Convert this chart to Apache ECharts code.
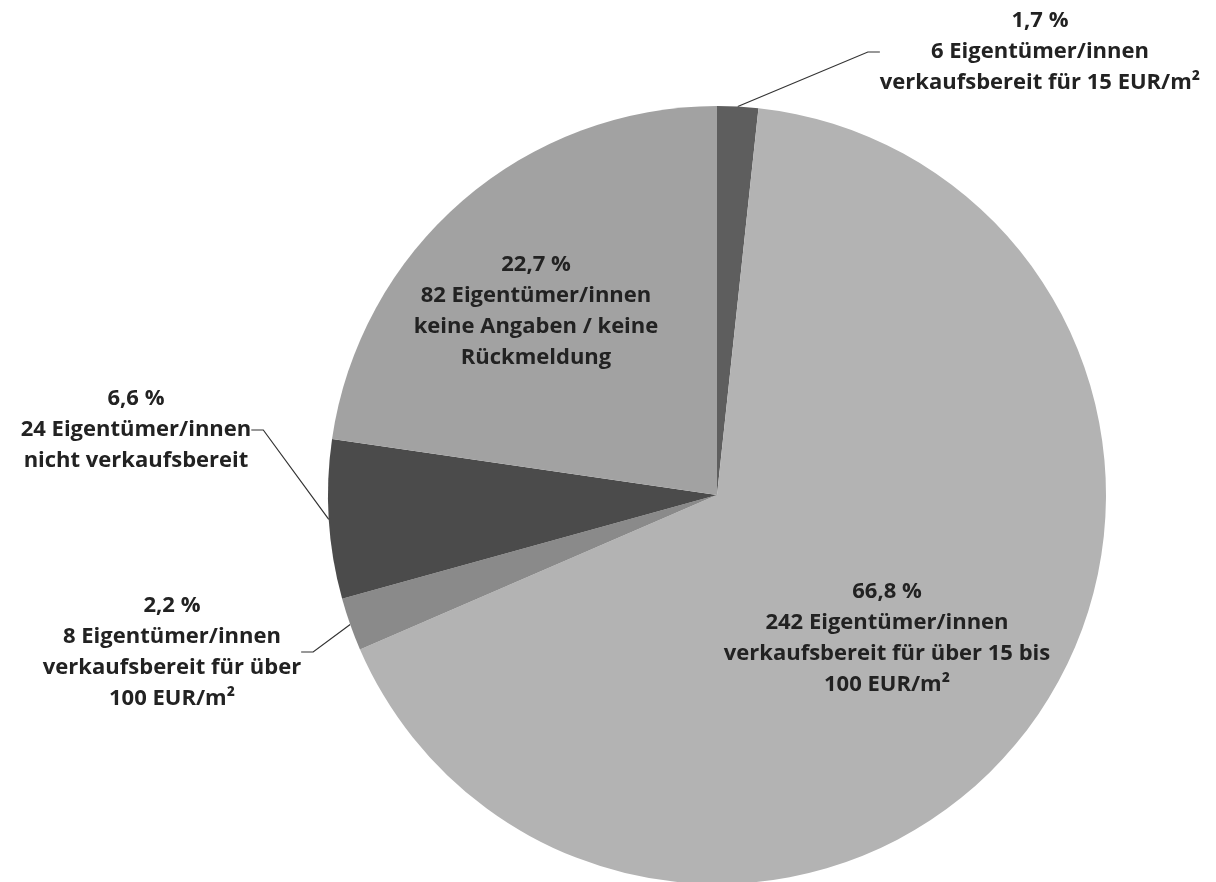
<!DOCTYPE html>
<html>
<head>
<meta charset="utf-8">
<script src="https://cdn.jsdelivr.net/npm/echarts@6/dist/echarts.min.js"></script>
<style>
  html, body { margin: 0; padding: 0; background: #ffffff; }
  #chart { width: 1216px; height: 882px; }
</style>
</head>
<body>
<div id="chart"></div>
<script>
// Verkaufsbereitschaft der Eigentümer/innen (Anteile in %)
const percents = [1.7, 66.8, 2.2, 6.6, 22.7];
const owners = [6, 242, 8, 24, 82];
const descriptions = [
  'verkaufsbereit für 15 EUR/m²',
  'verkaufsbereit für über 15 bis\n100 EUR/m²',
  'verkaufsbereit für über\n100 EUR/m²',
  'nicht verkaufsbereit',
  'keine Angaben / keine\nRückmeldung'
];
const sliceColors = ['#5e5e5e', '#b3b3b3', '#8a8a8a', '#4b4b4b', '#a2a2a2'];

// label anchor points (centre of each text block) and whether it sits inside the slice
const labelSpots = [
  { x: 1040, y: 52, inside: false },
  { x: 887, y: 638, inside: true },
  { x: 172, y: 652, inside: false },
  { x: 136, y: 430, inside: false },
  { x: 536, y: 311, inside: true }
];

const fmt = v => v.toFixed(1).replace('.', ',') + ' %';

const chart = echarts.init(document.getElementById('chart'), null, { renderer: 'canvas' });

const data = percents.map((p, i) => ({
  value: p,
  name: descriptions[i],
  itemStyle: { color: sliceColors[i] },
  label: {
    position: labelSpots[i].inside ? 'inside' : 'outside',
    formatter: fmt(p) + '\n' + owners[i] + ' Eigentümer/innen\n' + descriptions[i]
  },
  labelLine: { show: !labelSpots[i].inside }
}));

chart.setOption({
  backgroundColor: '#ffffff',
  animation: false,
  series: [{
    type: 'pie',
    center: [717, 495],
    radius: [0, 389],
    startAngle: 90,
    clockwise: true,
    avoidLabelOverlap: false,
    itemStyle: { borderWidth: 0 },
    emphasis: { disabled: true },
    label: {
      show: true,
      color: '#222222',
      fontFamily: 'Open Sans',
      fontWeight: 'bold',
      fontSize: 22,
      lineHeight: 31,
      align: 'center'
    },
    labelLine: {
      show: true,
      lineStyle: { color: '#333333', width: 1.2 },
      length: 20,
      length2: 12
    },
    labelLayout: function (params) {
      const s = labelSpots[params.dataIndex];
      return {
        x: s.x,
        y: s.y,
        align: 'center',
        verticalAlign: 'middle'
      };
    },
    data: data
  }]
});
</script>
</body>
</html>
